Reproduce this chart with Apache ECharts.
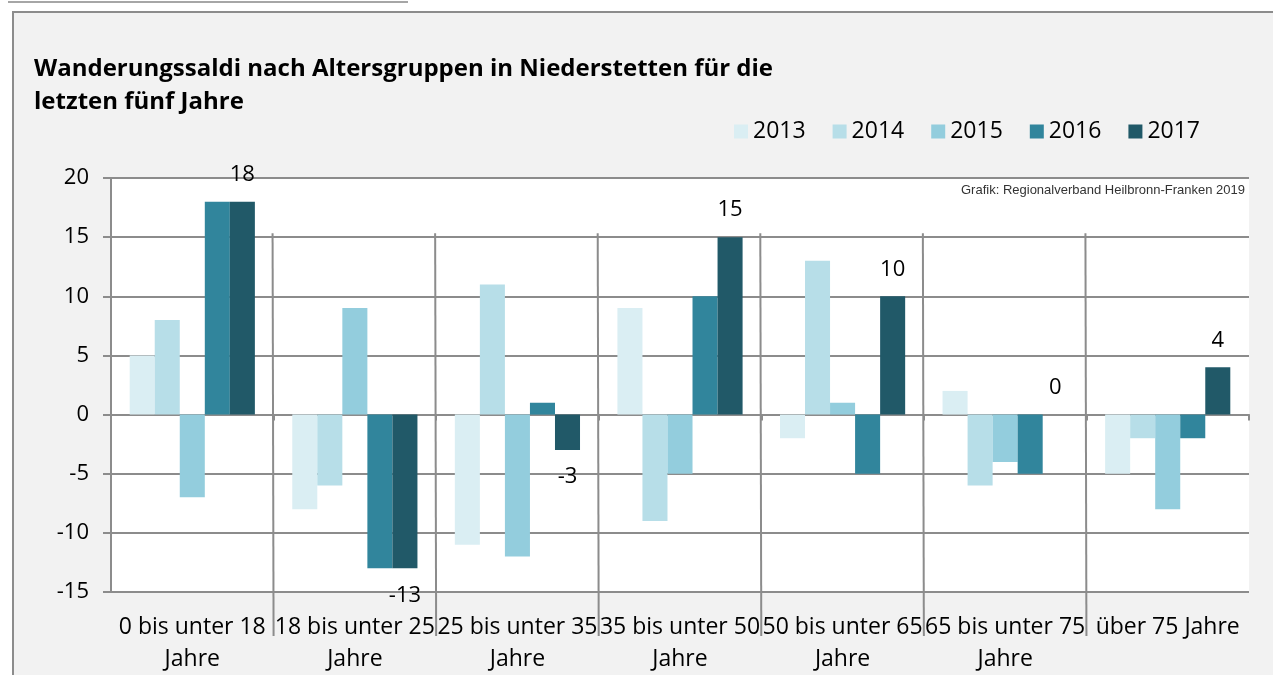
<!DOCTYPE html>
<html>
<head>
<meta charset="utf-8">
<script src="https://cdn.jsdelivr.net/npm/echarts@6/dist/echarts.min.js"></script>
<style>
  html, body { margin: 0; padding: 0; background: #fff; }
  #chart { width: 1273px; height: 675px; }
</style>
</head>
<body>
<div id="chart"></div>
<script>
// Altersgruppen
const categories = [
  "0 bis unter 18 Jahre",
  "18 bis unter 25 Jahre",
  "25 bis unter 35 Jahre",
  "35 bis unter 50 Jahre",
  "50 bis unter 65 Jahre",
  "65 bis unter 75 Jahre",
  "über 75 Jahre",
];
const years = ["2013", "2014", "2015", "2016", "2017"];
// Wanderungssaldo je Jahr
const saldo2013 = [5, -8, -11, 9, -2, 2, -5];
const saldo2014 = [8, -6, 11, -9, 13, -6, -2];
const saldo2015 = [-7, 9, -12, -5, 1, -4, -8];
const saldo2016 = [18, -13, 1, 10, -5, -5, -2];
const saldo2017 = [18, -13, -3, 15, 10, 0, 4];
const yTicks = [-15, -10, -5, 0, 5, 10, 15, 20];

const colors = ["#daeef3", "#b7dee8", "#93cddd", "#31859c", "#215968"];
const allSeries = [saldo2013, saldo2014, saldo2015, saldo2016, saldo2017];
const font = "'Open Sans', sans-serif";
const gridLine = "#8c8c8c";

const chart = echarts.init(document.getElementById("chart"));

const barSeries = years.map((y, i) => {
  const isLast = i === years.length - 1;
  return {
    name: y,
    type: "bar",
    xAxisIndex: 0,
    barGap: "0%",
    barCategoryGap: "23%",
    itemStyle: { color: colors[i] },
    data: allSeries[i].map((v) =>
      isLast
        ? { value: v, label: { position: v < 0 ? "bottom" : "top" } }
        : v
    ),
    label: {
      show: isLast,
      distance: 16,
      color: "#000",
      fontFamily: font,
      fontSize: 22,
    },
    z: 3,
  };
});

// vertical dividers between the age groups (drawn like the original)
const dividerSeries = {
  type: "custom",
  xAxisIndex: 1,
  silent: true,
  z: 4,
  data: categories.slice(1).map((c, i) => [i + 1]),
  renderItem: (params, api) => {
    const band = api.size([1, 0])[0];
    const x = api.coord([api.value(0), 0])[0] - band / 2;
    const yTop = api.coord([0, 15])[1] - 4;
    const yBottom = params.coordSys.y + params.coordSys.height + 44;
    return {
      type: "line",
      shape: { x1: x - 1, y1: yTop, x2: x, y2: yBottom },
      style: { stroke: gridLine, lineWidth: 2 },
    };
  },
};

const options = {
  backgroundColor: "#ffffff",
  animation: false,
  color: colors,
  graphic: [
    {
      type: "line",
      shape: { x1: 8, y1: 2, x2: 408, y2: 2 },
      style: { stroke: "#a6a6a6", lineWidth: 2 },
      z: -10,
    },
    {
      type: "rect",
      shape: { x: 13, y: 12, width: 1300, height: 700 },
      style: { fill: "#f2f2f2", stroke: "#8c8c8c", lineWidth: 2 },
      z: -10,
    },
    {
      type: "text",
      right: 28,
      top: 184,
      style: {
        text: "Grafik: Regionalverband Heilbronn-Franken 2019",
        fill: "#333",
        font: "13px 'Liberation Sans', Arial, sans-serif",
      },
      z: 10,
    },
  ],
  title: {
    text: "Wanderungssaldi nach Altersgruppen in Niederstetten für die\nletzten fünf Jahre",
    left: 29,
    top: 48,
    textStyle: {
      fontFamily: font,
      fontSize: 24,
      fontWeight: "bold",
      color: "#000",
      lineHeight: 33,
    },
  },
  legend: {
    data: years,
    left: 729,
    top: 115,
    icon: "rect",
    itemWidth: 14,
    itemHeight: 14,
    itemGap: 27,
    textStyle: { fontFamily: font, fontSize: 23, color: "#000" },
  },
  grid: {
    left: 111,
    right: 24,
    top: 178,
    bottom: 83,
    show: true,
    backgroundColor: "#ffffff",
    borderWidth: 0,
  },
  xAxis: [
    {
      type: "category",
      data: categories,
      position: "bottom",
      axisLine: { show: false, onZero: false },
      axisTick: { show: false },
      axisLabel: {
        interval: 0,
        margin: 19,
        color: "#000",
        fontFamily: font,
        fontSize: 23,
        lineHeight: 32,
        formatter: (name) =>
          name.length > 14 ? name.replace(/ Jahre$/, "\nJahre") : name,
      },
    },
    {
      type: "category",
      data: categories,
      position: "bottom",
      axisLine: { show: true, onZero: true, lineStyle: { color: gridLine, width: 2 } },
      axisTick: { show: true, length: 6, lineStyle: { color: gridLine, width: 2 } },
      axisLabel: { show: false },
    },
  ],
  yAxis: {
    type: "value",
    min: yTicks[0],
    max: yTicks[yTicks.length - 1],
    interval: 5,
    axisLine: { show: true, lineStyle: { color: gridLine, width: 2 } },
    axisTick: { show: true, length: 8, lineStyle: { color: gridLine, width: 2 } },
    axisLabel: {
      margin: 22,
      color: "#000",
      fontFamily: font,
      fontSize: 22,
    },
    splitLine: { show: true, lineStyle: { color: gridLine, width: 2 } },
  },
  series: [...barSeries, dividerSeries],
};

chart.setOption(options);
</script>
</body>
</html>
